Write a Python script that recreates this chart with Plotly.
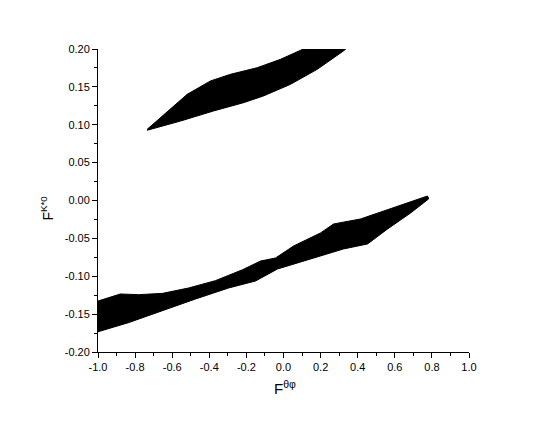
import plotly.graph_objects as go

# Upper band (clipped at the top of the axis range)
upper_band_top_x = [-0.735, -0.645, -0.519, -0.394, -0.286, -0.142, -0.016, 0.092, 0.20, 0.33]
upper_band_top_y = [0.094, 0.1129, 0.1402, 0.1578, 0.1666, 0.1753, 0.1864, 0.1983, 0.212, 0.225]
upper_band_bot_x = [0.36, 0.323, 0.182, 0.038, -0.108, -0.216, -0.377, -0.555, -0.735]
upper_band_bot_y = [0.205, 0.1974, 0.1732, 0.1534, 0.1380, 0.1291, 0.1182, 0.1049, 0.0927]

# Lower band
lower_band_top_x = [-1.0, -0.879, -0.782, -0.652, -0.512, -0.367, -0.221, -0.124, -0.043,
                    0.054, 0.199, 0.270, 0.415, 0.593, 0.776, 0.782]
lower_band_top_y = [-0.1327, -0.1234, -0.1243, -0.1226, -0.1155, -0.1058, -0.0914, -0.0799, -0.0759,
                    -0.0601, -0.0429, -0.0310, -0.0244, -0.0099, 0.0059, 0.0033]
lower_band_bot_x = [0.782, 0.685, 0.561, 0.453, 0.323, 0.146, -0.032, -0.151, -0.296,
                    -0.474, -0.652, -0.836, -1.0]
lower_band_bot_y = [0.002, -0.0165, -0.0376, -0.0574, -0.0640, -0.0772, -0.0904, -0.1063, -0.1155,
                    -0.1300, -0.1459, -0.1613, -0.1733]

x_ticks = [-1.0, -0.8, -0.6, -0.4, -0.2, 0.0, 0.2, 0.4, 0.6, 0.8, 1.0]
y_ticks = [-0.20, -0.15, -0.10, -0.05, 0.00, 0.05, 0.10, 0.15, 0.20]

fig = go.Figure()
fig.add_trace(go.Scatter(
    x=upper_band_top_x + upper_band_bot_x,
    y=upper_band_top_y + upper_band_bot_y,
    fill="toself", fillcolor="black", mode="lines",
    line=dict(color="black", width=1), hoverinfo="skip", showlegend=False))
fig.add_trace(go.Scatter(
    x=lower_band_top_x + lower_band_bot_x,
    y=lower_band_top_y + lower_band_bot_y,
    fill="toself", fillcolor="black", mode="lines",
    line=dict(color="black", width=1), hoverinfo="skip", showlegend=False))

axis_common = dict(
    showgrid=False, zeroline=False, showline=True, linecolor="black", linewidth=1,
    ticks="outside", ticklen=5, tickwidth=1, tickcolor="black",
    tickfont=dict(family="Liberation Sans, Arial", size=11, color="black"),
    minor=dict(ticks="outside", ticklen=3, tickwidth=1, tickcolor="black"),
)

fig.update_xaxes(range=[-1.0, 1.0], tickvals=x_ticks,
                 ticktext=[f"{v:.1f}" for v in x_ticks],
                 minor_dtick=0.1, minor_tick0=-1.0, **axis_common)
fig.update_yaxes(range=[-0.20, 0.20], tickvals=y_ticks,
                 ticktext=[f"{v:.2f}" for v in y_ticks],
                 minor_dtick=0.025, minor_tick0=-0.2, **axis_common)

fig.add_annotation(text="F<sup>θφ</sup>", xref="paper", yref="paper",
                   x=0.503, y=-0.08, xanchor="center", yanchor="top", showarrow=False,
                   font=dict(family="Liberation Sans, Arial", size=15, color="black"))
fig.add_annotation(text="F<sup>K*0</sup>", xref="paper", yref="paper",
                   x=-0.136, y=0.475, xanchor="center", yanchor="middle", showarrow=False,
                   textangle=-90,
                   font=dict(family="Liberation Sans, Arial", size=14, color="black"))

fig.update_layout(
    width=545, height=421,
    margin=dict(l=90, r=84, t=41, b=77),
    plot_bgcolor="white", paper_bgcolor="white",
)

fig.write_html("out.html")
